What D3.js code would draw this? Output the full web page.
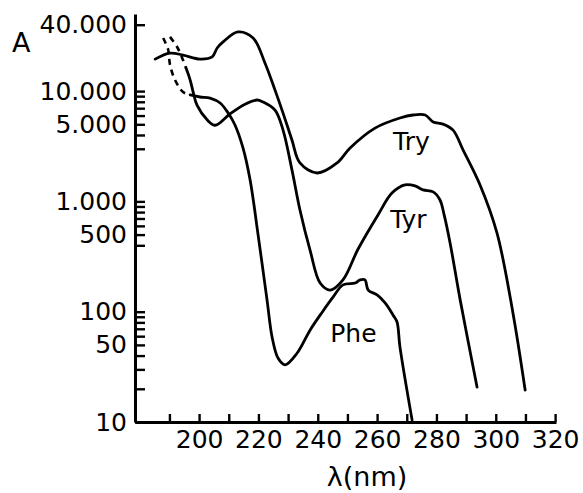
<!DOCTYPE html>
<html>
<head>
<meta charset="utf-8">
<script src="https://cdn.jsdelivr.net/npm/d3@7"></script>
<style>
  html, body { margin: 0; padding: 0; background: #fff; }
  svg { display: block; }
  text { font-family: "DejaVu Sans", sans-serif; fill: #000; }
</style>
</head>
<body>
<svg id="chart" width="583" height="493"></svg>
<script>
// ---- data (wavelength nm, absorbance A) ----
const tryData = [
  [185.2,19500],[190.2,22100],[194.6,21200],[200.3,19500],[204.4,20400],[206.1,24600],
  [208.1,27900],[213.1,34400],[218.2,30300],[222.2,18000],[225.6,10200],[228.3,6320],
  [231.3,3600],[234.0,2230],[239.8,1810],[246.5,2230],[250.9,3050],[259.3,4620],
  [267.7,5700],[272.1,6070],[276.2,6070],[278.9,5250],[282.2,5020],[285.6,4430],
  [289.0,2920],[294.7,1410],[300.4,518],[305.8,97],[309.9,19.5]
];
const tyrDashed = [
  [190.2,31000],[192.6,25100],[194.3,20000],[195.6,16200]
];
const tyrData = [
  [195.6,16200],[197.0,12600],[198.0,9800],[199.3,7450],[202.7,5500],[205.4,4900],
  [210.4,6200],[215.5,7600],[219.5,8300],[221.6,7960],[225.6,6730],[228.3,4430],
  [231.3,1930],[234.0,836],[237.4,362],[240.8,182],[244.2,157],[248.5,194],
  [253.6,370],[260.3,754],[265.0,1190],[269.4,1410],[272.8,1380],[275.5,1270],
  [278.9,1220],[281.2,1030],[282.6,754],[284.6,420],[288.0,128],[293.7,20.7]
];
const pheDashed = [
  [187.9,30300],[189.6,23600],[190.2,17300],[191.9,12600],[194.6,9800],[197.0,9230]
];
const pheData = [
  [197.0,9230],[200.3,8840],[203.7,8650],[207.1,7800],[209.8,6320],[212.1,4930],
  [214.8,3050],[217.2,1560],[219.9,495],[222.9,128],[224.6,59],[226.6,38],[229.0,33],
  [233.0,42],[237.4,68],[241.5,99],[245.2,136],[248.5,175],[252.6,182],[254.3,194],
  [255.9,194],[257.0,157],[260.0,142],[262.7,120],[265.4,93],[266.7,81],[267.7,48],
  [271.8,10.4]
];
const seriesLabels = [
  {name: "Try", at: [265.4, 2920]},
  {name: "Tyr", at: [264.4, 574]},
  {name: "Phe", at: [244.2, 53]}
];
const yMajorTicks = [10, 50, 100, 500, 1000, 5000, 10000, 40000];
const yMinorTicks = [20,30,40,60,70,80,90,400,600,700,800,900,3000,4000,6000,7000,8000,9000];
const xTicks = d3.range(190, 321, 10);
const xLabelTicks = d3.range(200, 321, 20);
const yTitle = "A";
const xTitle = "λ(nm)";

// ---- drawing ----
const svg = d3.select("#chart");
const x = d3.scaleLinear().domain([178.4, 320.3]).range([135, 556]);
const y = d3.scaleLog().domain([10, 50000]).range([422, 14]);

const locale = d3.formatLocale({decimal: ",", thousands: ".", grouping: [3], currency: ["", ""]});
const fmt = locale.format(",d");

const yAxis = d3.axisLeft(y)
  .tickValues(yMajorTicks.concat(yMinorTicks))
  .tickSize(-10).tickSizeOuter(0).tickPadding(8)
  .tickFormat(d => yMajorTicks.includes(d) ? fmt(d) : "");
const gy = svg.append("g").attr("transform", "translate(135,0)").call(yAxis);
gy.select(".domain").attr("stroke", "#000").attr("stroke-width", 3);
gy.selectAll(".tick line").attr("stroke", "#000").attr("stroke-width", 2.4);
gy.selectAll(".tick text").attr("font-size", 25).attr("font-family", "DejaVu Sans");

const xAxis = d3.axisBottom(x)
  .tickValues(xTicks)
  .tickSize(-8).tickSizeOuter(0).tickPadding(8)
  .tickFormat(d => xLabelTicks.includes(d) ? d : "");
const gx = svg.append("g").attr("transform", "translate(0,422)").call(xAxis);
gx.select(".domain").attr("stroke", "#000").attr("stroke-width", 3);
gx.selectAll(".tick line").attr("stroke", "#000").attr("stroke-width", 2.4);
gx.selectAll(".tick text").attr("font-size", 25).attr("font-family", "DejaVu Sans");

const line = d3.line()
  .x(d => x(d[0])).y(d => y(d[1]))
  .curve(d3.curveCatmullRom.alpha(0.5));

[tryData, tyrData, pheData].forEach(s => {
  svg.append("path").attr("d", line(s))
    .attr("fill", "none").attr("stroke", "#000")
    .attr("stroke-width", 2.8).attr("stroke-linejoin", "round").attr("stroke-linecap", "round");
});
[tyrDashed, pheDashed].forEach(s => {
  svg.append("path").attr("d", line(s))
    .attr("fill", "none").attr("stroke", "#000")
    .attr("stroke-width", 2.6).attr("stroke-dasharray", "6,5");
});

svg.selectAll("text.series").data(seriesLabels).enter().append("text")
  .attr("class", "series")
  .attr("x", d => x(d.at[0])).attr("y", d => y(d.at[1]))
  .attr("font-size", 25)
  .text(d => d.name);

svg.append("text").attr("x", 12).attr("y", 52).attr("font-size", 27).text(yTitle);
svg.append("text").attr("x", 367).attr("y", 486).attr("font-size", 27)
  .attr("text-anchor", "middle").text(xTitle);
</script>
</body>
</html>
